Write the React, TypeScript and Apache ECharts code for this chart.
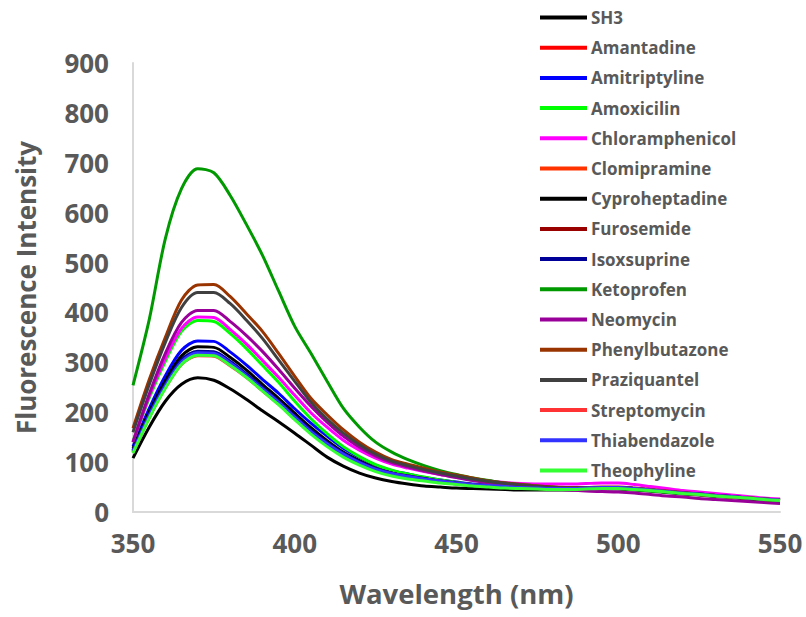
import React, { useEffect, useRef } from "react";
import * as echarts from "echarts";

const wavelengths = [350, 355, 360, 365, 370, 375, 380, 385, 390, 395, 400, 405, 410, 415, 420, 425, 430, 435, 440, 445, 450, 455, 460, 465, 470, 475, 480, 485, 490, 495, 500, 505, 510, 515, 520, 525, 530, 535, 540, 545, 550];

const seriesNames = ["SH3", "Amantadine", "Amitriptyline", "Amoxicilin", "Chloramphenicol", "Clomipramine", "Cyproheptadine", "Furosemide", "Isoxsuprine", "Ketoprofen", "Neomycin", "Phenylbutazone", "Praziquantel", "Streptomycin", "Thiabendazole", "Theophyline"];

const seriesColors = ["#000000", "#FF0000", "#0000FF", "#00FF00", "#FF00FF", "#FF3300", "#000000", "#990000", "#000099", "#009900", "#990099", "#993300", "#404040", "#FF3333", "#3333FF", "#33FF33"];

const sh3 = [108, 170, 222, 256, 269, 264, 247, 226, 203, 181, 158, 134, 110, 92, 78, 68, 61, 56, 52, 50, 48, 47, 46, 45, 44, 44, 44, 44, 45, 46, 46, 44, 42, 39, 36, 34, 31, 29, 26, 24, 22];
const amantadine = [121, 191, 251, 299, 316, 315, 296, 272, 245, 218, 188, 160, 136, 115, 99, 86, 77, 71, 66, 62, 58, 55, 53, 51, 49, 48, 47, 47, 48, 49, 49, 47, 44, 41, 38, 36, 33, 31, 28, 26, 24];
const amitriptyline = [131, 207, 273, 324, 343, 342, 321, 295, 266, 238, 207, 178, 152, 128, 110, 94, 83, 76, 69, 64, 60, 56, 53, 51, 49, 48, 47, 47, 48, 49, 49, 47, 44, 41, 38, 36, 33, 31, 28, 26, 24];
const amoxicilin = [142, 228, 302, 362, 384, 382, 358, 328, 294, 260, 222, 187, 157, 131, 111, 95, 84, 76, 70, 64, 59, 55, 52, 50, 48, 47, 46, 46, 47, 48, 48, 46, 43, 40, 38, 35, 33, 30, 28, 26, 24];
const chloramphenicol = [140, 232, 308, 368, 391, 390, 366, 337, 304, 270, 234, 199, 170, 144, 124, 108, 96, 88, 81, 75, 70, 66, 62, 59, 57, 56, 56, 56, 57, 58, 58, 55, 51, 47, 43, 40, 37, 34, 31, 28, 26];
const clomipramine = [120, 190, 250, 297, 315, 314, 295, 271, 244, 217, 187, 159, 135, 114, 98, 85, 76, 70, 65, 61, 57, 54, 52, 50, 48, 47, 46, 46, 47, 48, 48, 46, 44, 41, 38, 35, 33, 30, 28, 26, 24];
const cyproheptadine = [127, 200, 263, 313, 331, 330, 310, 285, 256, 228, 198, 169, 143, 120, 103, 88, 78, 71, 65, 60, 56, 53, 50, 48, 47, 46, 45, 45, 46, 47, 48, 46, 43, 40, 38, 35, 33, 30, 28, 25, 23];
const furosemide = [123, 194, 255, 303, 320, 319, 300, 276, 249, 221, 191, 163, 138, 117, 100, 87, 78, 72, 67, 62, 58, 55, 53, 51, 49, 48, 47, 47, 47, 48, 48, 46, 44, 41, 38, 36, 33, 31, 28, 26, 24];
const isoxsuprine = [124, 195, 256, 305, 322, 321, 302, 277, 250, 222, 192, 164, 139, 118, 101, 87, 78, 72, 67, 62, 58, 55, 53, 51, 49, 48, 47, 47, 48, 49, 49, 47, 44, 41, 38, 36, 33, 31, 28, 26, 24];
const ketoprofen = [254, 385, 548, 648, 688, 680, 635, 577, 515, 443, 372, 318, 262, 208, 170, 140, 120, 105, 93, 83, 75, 68, 63, 58, 55, 52, 50, 48, 47, 47, 47, 45, 42, 40, 37, 35, 33, 30, 28, 26, 24];
const neomycin = [140, 236, 318, 380, 404, 404, 382, 354, 322, 286, 248, 212, 180, 152, 130, 112, 99, 90, 82, 75, 69, 63, 58, 54, 51, 48, 46, 44, 42, 41, 40, 38, 35, 32, 30, 27, 25, 23, 21, 19, 17];
const phenylbutazone = [168, 265, 350, 425, 455, 456, 432, 398, 362, 318, 272, 228, 195, 165, 140, 120, 105, 96, 88, 80, 74, 68, 62, 58, 55, 52, 50, 49, 49, 50, 50, 48, 45, 42, 39, 36, 33, 30, 28, 25, 23];
const praziquantel = [160, 255, 340, 410, 440, 440, 418, 385, 348, 305, 262, 220, 186, 158, 135, 116, 102, 93, 85, 78, 72, 66, 61, 57, 54, 51, 49, 48, 48, 49, 49, 47, 44, 41, 38, 35, 32, 30, 27, 25, 22];
const streptomycin = [119, 189, 249, 296, 313, 312, 293, 270, 243, 216, 186, 158, 134, 113, 97, 84, 76, 70, 65, 61, 57, 54, 52, 50, 48, 47, 46, 46, 47, 48, 48, 46, 44, 41, 38, 35, 33, 30, 28, 26, 24];
const thiabendazole = [122, 193, 253, 301, 319, 318, 299, 274, 247, 220, 190, 161, 137, 116, 99, 86, 77, 71, 66, 62, 58, 55, 53, 51, 49, 48, 47, 47, 48, 49, 49, 47, 44, 41, 38, 36, 33, 31, 28, 26, 24];
const theophyline = [118, 188, 248, 296, 314, 313, 294, 270, 243, 215, 185, 156, 131, 110, 94, 81, 72, 66, 62, 58, 55, 52, 50, 48, 47, 46, 45, 45, 46, 47, 47, 45, 43, 40, 37, 35, 32, 30, 28, 25, 23];

const seriesValues = [sh3, amantadine, amitriptyline, amoxicilin, chloramphenicol, clomipramine, cyproheptadine, furosemide, isoxsuprine, ketoprofen, neomycin, phenylbutazone, praziquantel, streptomycin, thiabendazole, theophyline];

const FONT = "'Open Sans', 'Liberation Sans', Arial, sans-serif";
const TEXT = "#595959";

export default function App() {
  const ref = useRef<HTMLDivElement>(null);
  useEffect(() => {
    if (!ref.current) return;
    const chart = echarts.init(ref.current, null, { renderer: "svg" });
    chart.setOption({
      animation: false,
      backgroundColor: "#ffffff",
      grid: { left: 133, right: 26, top: 63, bottom: 105, containLabel: false },
      legend: {
        orient: "vertical",
        left: 540,
        top: 9,
        padding: 0,
        icon: "rect",
        itemWidth: 47,
        itemHeight: 4,
        itemGap: 13.2,
        data: seriesNames,
        textStyle: { color: TEXT, fontFamily: FONT, fontWeight: "bold", fontSize: 17, padding: [0, 0, 0, -1] },
      },
      xAxis: {
        type: "value",
        min: 350,
        max: 550,
        interval: 50,
        name: "Wavelength (nm)",
        nameLocation: "middle",
        nameGap: 67,
        nameTextStyle: { color: TEXT, fontFamily: FONT, fontWeight: "bold", fontSize: 27.5 },
        axisLine: { show: true, lineStyle: { color: "#d9d9d9", width: 2 } },
        axisTick: { show: false },
        splitLine: { show: false },
        axisLabel: { color: TEXT, fontFamily: FONT, fontWeight: "bold", fontSize: 26, margin: 18 },
      },
      yAxis: {
        type: "value",
        min: 0,
        max: 900,
        interval: 100,
        name: "Fluorescence Intensity",
        nameLocation: "middle",
        nameGap: 94,
        nameTextStyle: { color: TEXT, fontFamily: FONT, fontWeight: "bold", fontSize: 26 },
        axisLine: { show: true, lineStyle: { color: "#d9d9d9", width: 2 } },
        axisTick: { show: false },
        splitLine: { show: false },
        axisLabel: { color: TEXT, fontFamily: FONT, fontWeight: "bold", fontSize: 26, margin: 24 },
      },
      series: seriesNames.map((name, i) => ({
        name,
        type: "line",
        symbol: "none",
        smooth: 0.3,
        color: seriesColors[i],
        lineStyle: { color: seriesColors[i], width: 3 },
        data: wavelengths.map((w, j) => [w, seriesValues[i][j]]),
      })),
    });
    return () => chart.dispose();
  }, []);
  return <div ref={ref} style={{ position: "fixed", left: 0, top: 0, width: 806, height: 617 }} />;
}
